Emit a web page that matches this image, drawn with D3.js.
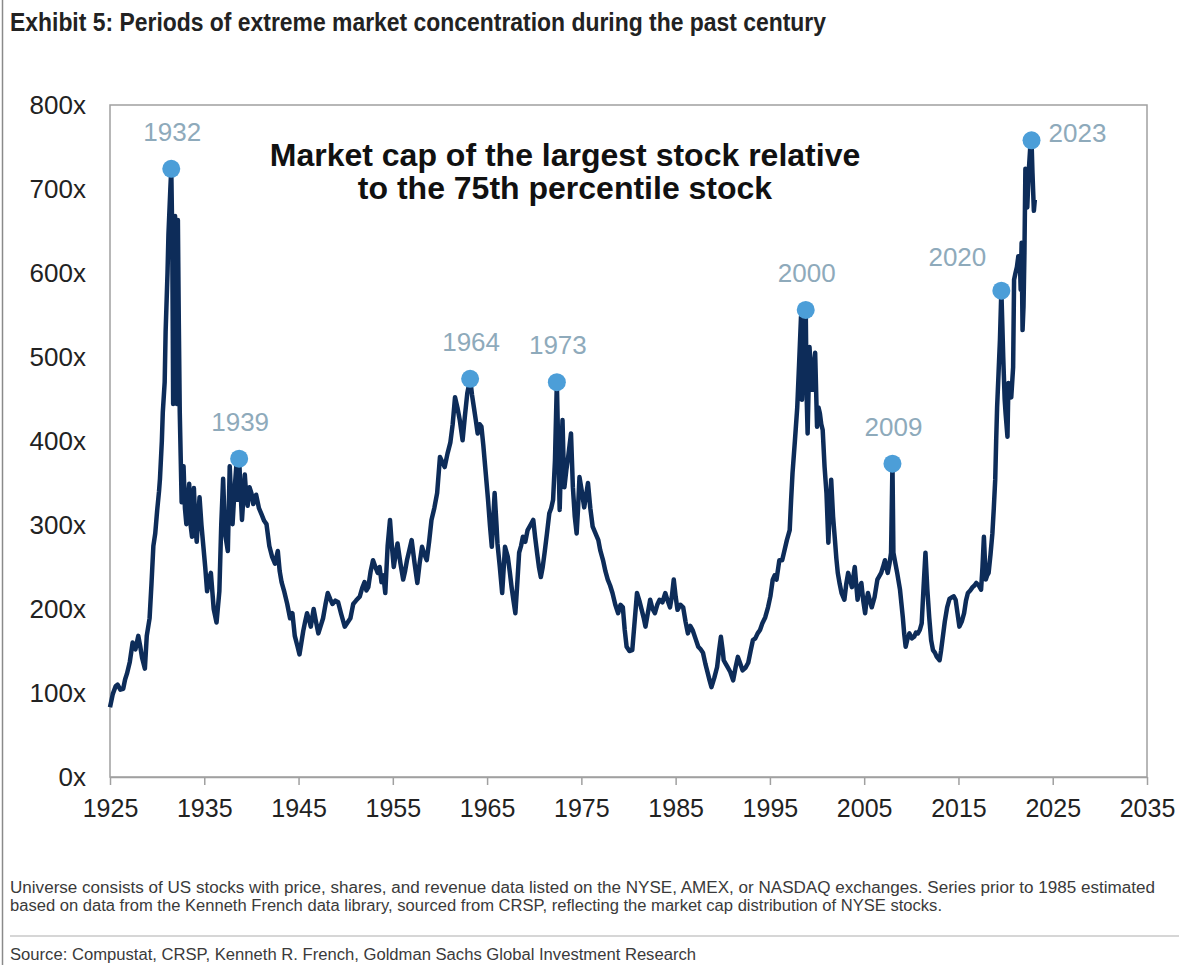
<!DOCTYPE html>
<html>
<head>
<meta charset="utf-8">
<script src="https://cdn.jsdelivr.net/npm/d3@7"></script>
<style>
    html, body { margin: 0; padding: 0; background: #fff; }
    svg { display: block; }
</style>
</head>
<body>
<svg id="chart" width="1179" height="965"></svg>
<script>
// ---- data ----
const X_TICKS = [1925, 1935, 1945, 1955, 1965, 1975, 1985, 1995, 2005, 2015, 2025, 2035];
const Y_TICKS = [0, 100, 200, 300, 400, 500, 600, 700, 800];

const LINE_YEARS = [
    1925.0, 1925.3, 1925.6, 1925.8, 1926.1, 1926.4, 1926.6, 1926.8, 1927.1, 1927.4,
    1927.7, 1928.0, 1928.2, 1928.4, 1928.7, 1928.9, 1929.2, 1929.4, 1929.6, 1929.8,
    1930.0, 1930.2, 1930.3, 1930.5, 1930.6, 1930.8, 1930.9, 1931.1, 1931.2, 1931.4,
    1931.5, 1931.6, 1931.7, 1931.8, 1931.9, 1932.0, 1932.1, 1932.2, 1932.3, 1932.4,
    1932.6, 1932.8, 1932.95, 1933.1, 1933.25, 1933.4, 1933.55, 1933.7, 1933.9, 1934.05,
    1934.2, 1934.35, 1934.5, 1934.7, 1934.9, 1935.1, 1935.3, 1935.5, 1935.7, 1936.0,
    1936.3, 1936.6, 1936.8, 1937.0, 1937.2, 1937.5, 1937.7, 1937.85, 1938.0, 1938.2,
    1938.4, 1938.55, 1938.7, 1938.85, 1939.0, 1939.3, 1939.45, 1939.6, 1939.8, 1940.0,
    1940.2, 1940.5, 1940.8, 1941.1, 1941.35, 1941.6, 1941.9, 1942.2, 1942.5, 1942.8,
    1943.0, 1943.2, 1943.5, 1943.8, 1944.1, 1944.35, 1944.6, 1944.9, 1945.1, 1945.3,
    1945.5, 1945.7, 1945.9, 1946.1, 1946.3, 1946.6, 1946.85, 1947.1, 1947.35, 1947.6,
    1947.85, 1948.1, 1948.35, 1948.6, 1948.9, 1949.2, 1949.5, 1949.9, 1950.2, 1950.5,
    1950.8, 1951.1, 1951.5, 1951.75, 1952.0, 1952.2, 1952.4, 1952.65, 1952.9, 1953.15,
    1953.4, 1953.6, 1953.8, 1954.0, 1954.2, 1954.45, 1954.7, 1954.9, 1955.1, 1955.3,
    1955.5, 1955.8, 1956.1, 1956.3, 1956.5, 1956.75, 1957.0, 1957.3, 1957.6, 1957.85,
    1958.1, 1958.35, 1958.6, 1958.85, 1959.1, 1959.4, 1959.7, 1960.0, 1960.25, 1960.5,
    1960.8, 1961.1, 1961.35, 1961.6, 1961.85, 1962.1, 1962.4, 1962.65, 1962.9, 1963.2,
    1963.4, 1963.6, 1963.8, 1964.0, 1964.2, 1964.4, 1964.6, 1964.8, 1965.1, 1965.3,
    1965.5, 1965.8, 1966.0, 1966.1, 1966.35, 1966.6, 1966.9, 1967.2, 1967.4, 1967.6,
    1967.8, 1968.0, 1968.2, 1968.4, 1968.6, 1968.8, 1969.05, 1969.3, 1969.6, 1969.9,
    1970.1, 1970.3, 1970.5, 1970.7, 1970.9, 1971.1, 1971.35, 1971.6, 1971.8, 1972.0,
    1972.2, 1972.4, 1972.55, 1972.7, 1972.85, 1973.0, 1973.1, 1973.2, 1973.4, 1973.6,
    1973.75, 1973.9, 1974.1, 1974.3, 1974.5, 1974.65, 1974.8, 1975.05, 1975.3, 1975.5,
    1975.7, 1975.95, 1976.2, 1976.5, 1976.8, 1977.0, 1977.3, 1977.55, 1977.8, 1978.05,
    1978.3, 1978.6, 1978.9, 1979.15, 1979.4, 1979.6, 1979.8, 1980.1, 1980.4, 1980.65,
    1980.9, 1981.15, 1981.4, 1981.6, 1981.8, 1982.05, 1982.3, 1982.55, 1982.8, 1983.05,
    1983.3, 1983.6, 1983.9, 1984.15, 1984.4, 1984.6, 1984.8, 1985.0, 1985.2, 1985.5,
    1985.8, 1986.05, 1986.3, 1986.55, 1986.8, 1987.1, 1987.4, 1987.65, 1987.9, 1988.15,
    1988.4, 1988.6, 1988.8, 1989.1, 1989.4, 1989.6, 1989.8, 1990.0, 1990.1, 1990.3,
    1990.5, 1990.8, 1991.1, 1991.35, 1991.6, 1991.85, 1992.1, 1992.4, 1992.7, 1992.95,
    1993.2, 1993.45, 1993.7, 1993.95, 1994.2, 1994.5, 1994.8, 1995.05, 1995.3, 1995.5,
    1995.7, 1996.0, 1996.3, 1996.55, 1996.8, 1997.1, 1997.25, 1997.4, 1997.65, 1997.9,
    1998.1, 1998.3, 1998.4, 1998.55, 1998.8, 1998.9, 1999.0, 1999.2, 1999.35, 1999.5,
    1999.65, 1999.8, 2000.0, 2000.15, 2000.3, 2000.45, 2000.6, 2000.8, 2001.0, 2001.2,
    2001.35, 2001.5, 2001.7, 2001.9, 2002.05, 2002.2, 2002.4, 2002.6, 2002.9, 2003.1,
    2003.3, 2003.5, 2003.7, 2004.0, 2004.15, 2004.3, 2004.5, 2004.7, 2004.9, 2005.1,
    2005.25, 2005.4, 2005.6, 2005.8, 2006.1, 2006.4, 2006.8, 2007.0, 2007.2, 2007.35,
    2007.5, 2007.7, 2007.85, 2008.0, 2008.1, 2008.3, 2008.5, 2008.8, 2009.1, 2009.25,
    2009.4, 2009.6, 2009.8, 2010.05, 2010.3, 2010.5, 2010.7, 2010.9, 2011.1, 2011.3,
    2011.5, 2011.7, 2011.9, 2012.1, 2012.3, 2012.5, 2012.7, 2013.0, 2013.15, 2013.3,
    2013.55, 2013.8, 2014.05, 2014.3, 2014.5, 2014.7, 2014.9, 2015.1, 2015.35, 2015.6,
    2015.8, 2016.0, 2016.25, 2016.5, 2016.7, 2016.9, 2017.15, 2017.4, 2017.55, 2017.7,
    2017.8, 2017.9, 2018.05, 2018.2, 2018.4, 2018.6, 2018.75, 2018.9, 2019.0, 2019.1,
    2019.25, 2019.4, 2019.55, 2019.65, 2019.75, 2019.9, 2020.0, 2020.2, 2020.3, 2020.45,
    2020.6, 2020.8, 2020.9, 2021.05, 2021.2, 2021.35, 2021.5, 2021.6, 2021.7, 2021.8,
    2021.9, 2022.0, 2022.1, 2022.2, 2022.3, 2022.45, 2022.6, 2022.75, 2022.85, 2023.0,
    2023.1
];

const LINE_VALUES = [
    83, 99, 108, 110, 104, 105, 116, 123, 137, 160,
    152, 168, 156, 142, 129, 168, 189, 230, 275, 290,
    317, 340, 355, 400, 434, 470, 530, 600, 646, 700,
    724, 646, 444, 560, 668, 520, 444, 663, 540, 434,
    327, 370, 320, 301, 330, 349, 300, 286, 344, 300,
    280, 310, 333, 300, 275, 250, 221, 235, 243, 200,
    184, 221, 300, 355, 290, 269, 370, 330, 301, 340,
    370, 330, 379, 340, 306, 360, 335, 323, 345, 338,
    325, 336, 320, 312, 305, 301, 275, 262, 254, 269,
    245, 232, 220, 206, 189, 195, 168, 155, 146, 160,
    174, 185, 195, 188, 179, 200, 185, 171, 180, 189,
    205, 219, 212, 206, 210, 208, 195, 179, 184, 189,
    206, 210, 215, 225, 232, 222, 226, 245, 258, 250,
    243, 250, 232, 240, 219, 275, 306, 275, 250, 265,
    278, 255, 235, 245, 258, 270, 282, 255, 231, 255,
    274, 265, 258, 280, 306, 320, 338, 381, 375, 369,
    385, 398, 420, 452, 440, 425, 401, 430, 457, 474,
    455, 440, 425, 409, 420, 417, 395, 369, 330, 300,
    274, 338, 300, 278, 250, 219, 274, 262, 245, 226,
    210, 195, 230, 267, 275, 286, 280, 294, 300, 306,
    285, 267, 250, 238, 250, 267, 290, 314, 320, 330,
    377, 470, 390, 318, 380, 425, 380, 345, 365, 381,
    395, 409, 345, 310, 290, 320, 357, 340, 321, 335,
    350, 320, 298, 290, 282, 270, 258, 245, 235, 228,
    219, 205, 195, 205, 202, 175, 155, 150, 151, 185,
    219, 210, 199, 190, 179, 195, 211, 200, 195, 205,
    211, 208, 219, 210, 202, 215, 235, 215, 199, 205,
    202, 185, 171, 180, 175, 165, 155, 152, 148, 135,
    124, 115, 107, 118, 131, 150, 167, 150, 139, 135,
    131, 125, 115, 130, 143, 135, 127, 130, 136, 150,
    163, 165, 171, 175, 183, 190, 202, 215, 235, 240,
    235, 258, 258, 270, 282, 294, 330, 362, 400, 440,
    493, 548, 449, 500, 556, 452, 409, 512, 480, 461,
    490, 505, 417, 440, 433, 420, 413, 369, 338, 279,
    320, 354, 310, 282, 260, 243, 230, 219, 211, 230,
    243, 235, 226, 250, 230, 211, 225, 231, 210, 195,
    210, 219, 210, 202, 214, 235, 243, 250, 258, 250,
    243, 255, 267, 373, 267, 255, 243, 223, 190, 170,
    155, 165, 171, 165, 167, 172, 171, 175, 183, 226,
    267, 223, 190, 163, 151, 148, 143, 139, 150, 163,
    185, 202, 212, 214, 215, 211, 195, 179, 185, 195,
    210, 219, 222, 226, 228, 231, 228, 223, 250, 286,
    260, 235, 240, 243, 265, 290, 320, 354, 400, 440,
    480, 520, 579, 540, 500, 450, 433, 405, 469, 455,
    452, 488, 592, 600, 607, 620, 619, 580, 636, 532,
    560, 624, 724, 700, 678, 720, 747, 758, 720, 674,
    687
];

const PEAK_LABELS = ['1932', '1939', '1964', '1973', '2000', '2009', '2020', '2023'];
const PEAK_YEARS = [1931.5, 1938.7, 1963.2, 1972.4, 1998.8, 2008.0, 2019.55, 2022.75];
const PEAK_VALUES = [724, 379, 474, 470, 556, 373, 579, 758];

const TITLE = 'Exhibit 5: Periods of extreme market concentration during the past century';
const INNER_TITLE = ['Market cap of the largest stock relative', 'to the 75th percentile stock'];
const FOOTNOTE = [
    'Universe consists of US stocks with price, shares, and revenue data listed on the NYSE, AMEX, or NASDAQ exchanges. Series prior to 1985 estimated',
    'based on data from the Kenneth French data library, sourced from CRSP, reflecting the market cap distribution of NYSE stocks.'
];
const SOURCE = 'Source: Compustat, CRSP, Kenneth R. French, Goldman Sachs Global Investment Research';

// ---- layout / style ----
const PLOT = { left: 110, right: 1147, top: 105, bottom: 777 };
const LINE_COLOR = '#0d2c59';
const MARKER_COLOR = '#4c9ed8';
const LABEL_COLOR = '#8eaabb';
const FRAME_COLOR = '#a0a0a0';
const FONT = '"Liberation Sans", Arial, sans-serif';
const NARROW_FONT = '"Liberation Sans Narrow", "Liberation Sans", Arial, sans-serif';

// label offset from its marker, [dx, dy, anchor]
const LABEL_OFFSETS = {
    '2020': [-44, -32, 'middle'],
    '2023': [17, -5, 'start']
};
const DEFAULT_OFFSET = [1, -35, 'middle'];

const svg = d3.select('#chart');

const x = d3.scaleLinear()
    .domain([1925, 2035])
    .range([PLOT.left, PLOT.right]);

const y = d3.scaleLinear()
    .domain([0, 800])
    .range([PLOT.bottom, PLOT.top]);

// thin page border on the left
svg.append('line')
    .attr('x1', 2.5).attr('x2', 2.5)
    .attr('y1', 0).attr('y2', 965)
    .attr('stroke', '#8a8a8a')
    .attr('stroke-width', 1.5);

// header, squeezed to look like the narrow bold face of the original
svg.append('text')
    .attr('x', 10)
    .attr('y', 31)
    .attr('textLength', 816)
    .attr('lengthAdjust', 'spacingAndGlyphs')
    .style('font-family', NARROW_FONT)
    .style('font-weight', 'bold')
    .style('font-size', '25px')
    .attr('fill', '#222')
    .text(TITLE);

// plot frame
svg.append('rect')
    .attr('x', PLOT.left)
    .attr('y', PLOT.top)
    .attr('width', PLOT.right - PLOT.left)
    .attr('height', PLOT.bottom - PLOT.top)
    .attr('fill', 'none')
    .attr('stroke', FRAME_COLOR)
    .attr('stroke-width', 1.5);

// x axis: ticks below the frame and the year labels
const xAxis = d3.axisBottom(x)
    .tickValues(X_TICKS)
    .tickFormat(d3.format('d'))
    .tickSize(8)
    .tickSizeOuter(0)
    .tickPadding(14);

const xAxisG = svg.append('g')
    .attr('transform', `translate(0,${PLOT.bottom})`)
    .call(xAxis);
xAxisG.select('.domain').attr('stroke', FRAME_COLOR).attr('stroke-width', 1.5);
xAxisG.selectAll('.tick line').attr('stroke', FRAME_COLOR).attr('stroke-width', 1.5);
xAxisG.selectAll('.tick text')
    .style('font-family', FONT)
    .style('font-size', '25px')
    .attr('fill', '#222');

// y axis: labels only
const yAxis = d3.axisLeft(y)
    .tickValues(Y_TICKS)
    .tickFormat(d => d + 'x')
    .tickSize(0)
    .tickPadding(24);

const yAxisG = svg.append('g')
    .attr('transform', `translate(${PLOT.left},0)`)
    .call(yAxis);
yAxisG.select('.domain').remove();
yAxisG.selectAll('.tick text')
    .style('font-family', FONT)
    .style('font-size', '26px')
    .attr('fill', '#222');

// inner title
svg.append('text')
    .attr('x', 565)
    .attr('y', 166)
    .attr('text-anchor', 'middle')
    .style('font-family', FONT)
    .style('font-weight', 'bold')
    .style('font-size', '32px')
    .attr('fill', '#111')
    .selectAll('tspan')
    .data(INNER_TITLE)
    .enter()
    .append('tspan')
        .attr('x', 565)
        .attr('dy', (d, i) => i === 0 ? 0 : 33)
        .text(d => d);

// the series
const lineData = LINE_YEARS.map((yr, i) => ({ year: yr, value: LINE_VALUES[i] }));

const line = d3.line()
    .x(d => x(d.year))
    .y(d => y(d.value));

svg.append('path')
    .datum(lineData)
    .attr('d', line)
    .attr('fill', 'none')
    .attr('stroke', LINE_COLOR)
    .attr('stroke-width', 4.5)
    .attr('stroke-linejoin', 'round');

// peak markers and their year labels
const peaks = PEAK_LABELS.map((lbl, i) => ({ label: lbl, year: PEAK_YEARS[i], value: PEAK_VALUES[i] }));

svg.selectAll('circle.peak')
    .data(peaks)
    .enter()
    .append('circle')
        .classed('peak', true)
        .attr('cx', d => x(d.year))
        .attr('cy', d => y(d.value))
        .attr('r', 9)
        .attr('fill', MARKER_COLOR);

svg.selectAll('text.peak-label')
    .data(peaks)
    .enter()
    .append('text')
        .classed('peak-label', true)
        .attr('x', d => x(d.year) + (LABEL_OFFSETS[d.label] || DEFAULT_OFFSET)[0])
        .attr('y', d => y(d.value) + (LABEL_OFFSETS[d.label] || DEFAULT_OFFSET)[1])
        .attr('text-anchor', d => (LABEL_OFFSETS[d.label] || DEFAULT_OFFSET)[2])
        .attr('dominant-baseline', 'middle')
        .style('font-family', FONT)
        .style('font-size', '26px')
        .attr('fill', LABEL_COLOR)
        .text(d => d.label);

// footnote, separator and source
const footG = svg.append('g')
    .style('font-family', NARROW_FONT)
    .style('font-size', '16px')
    .attr('fill', '#3a3a3a');

footG.selectAll('text.note')
    .data(FOOTNOTE)
    .enter()
    .append('text')
        .classed('note', true)
        .attr('x', 10)
        .attr('y', (d, i) => 893 + i * 18)
        .attr('textLength', (d, i) => i === 0 ? 1145 : 932)
        .attr('lengthAdjust', 'spacingAndGlyphs')
        .text(d => d);

svg.append('line')
    .attr('x1', 10).attr('x2', 1179)
    .attr('y1', 936).attr('y2', 936)
    .attr('stroke', '#c8c8c8')
    .attr('stroke-width', 1.5);

footG.append('text')
    .attr('x', 10)
    .attr('y', 960)
    .attr('textLength', 686)
    .attr('lengthAdjust', 'spacingAndGlyphs')
    .text(SOURCE);
</script>
</body>
</html>
